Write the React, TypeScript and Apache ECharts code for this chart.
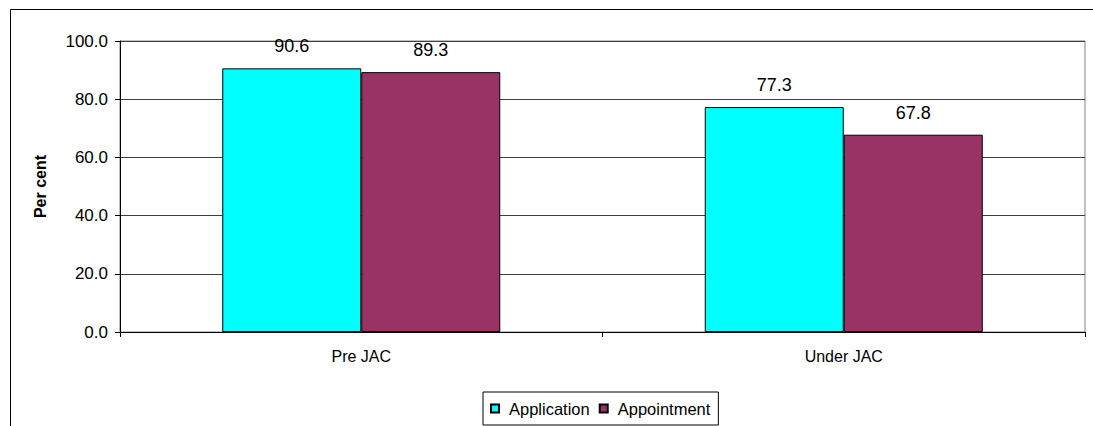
import React, { useEffect, useRef } from "react";
import * as echarts from "echarts";

const categories = ["Pre JAC", "Under JAC"];
const applicationValues = [90.6, 77.3];
const appointmentValues = [89.3, 67.8];
const seriesNames = ["Application", "Appointment"];
const yTicks = { min: 0, max: 100, interval: 20 };

const FONT = "'Liberation Sans', Arial, sans-serif";

export default function App() {
  const ref = useRef<HTMLDivElement>(null);
  useEffect(() => {
    if (!ref.current) return;
    const chart = echarts.init(ref.current, null, { renderer: "svg" });
    const label = {
      show: true,
      position: "top" as const,
      distance: 13,
      fontSize: 18,
      fontFamily: FONT,
      color: "#000",
      formatter: (p: any) => Number(p.value).toFixed(1),
    };
    chart.setOption({
      animation: false,
      backgroundColor: "#fff",
      textStyle: { fontFamily: FONT },
      grid: {
        left: 120,
        right: 8,
        top: 41,
        bottom: 94,
        show: true,
        borderColor: "#808080",
        borderWidth: 1,
        backgroundColor: "transparent",
      },
      graphic: [
        {
          type: "rect",
          shape: { x: 10.5, y: 9.5, width: 1200, height: 600 },
          style: { fill: "none", stroke: "#000", lineWidth: 1 },
          silent: true,
          z: -1,
        },
      ],
      legend: {
        data: seriesNames,
        left: 483,
        top: 392,
        padding: [8, 8, 8, 7],
        itemGap: 9,
        itemWidth: 8,
        itemHeight: 8,
        icon: "rect",
        borderColor: "#000",
        borderWidth: 1,
        textStyle: { fontSize: 16.5, fontFamily: FONT, color: "#000", padding: [0, 0, 0, 5] },
      },
      xAxis: {
        type: "category",
        data: categories,
        axisLine: { lineStyle: { color: "#000", width: 1 } },
        axisTick: { show: true, length: 5, lineStyle: { color: "#000" } },
        axisLabel: { fontSize: 16, fontFamily: FONT, color: "#000", margin: 16 },
      },
      yAxis: {
        type: "value",
        min: yTicks.min,
        max: yTicks.max,
        interval: yTicks.interval,
        name: "Per cent",
        nameLocation: "middle",
        nameRotate: 90,
        nameGap: 72,
        nameTextStyle: { fontSize: 16, fontWeight: "bold", fontFamily: FONT, color: "#000" },
        axisLine: { show: true, lineStyle: { color: "#000", width: 1 } },
        axisTick: { show: true, length: 5, lineStyle: { color: "#000" } },
        axisLabel: {
          fontSize: 17,
          fontFamily: FONT,
          color: "#000",
          margin: 12,
          formatter: (v: number) => v.toFixed(1),
        },
        splitLine: { show: true, lineStyle: { color: "#404040", width: 1 } },
      },
      series: [
        {
          name: seriesNames[0],
          type: "bar",
          data: applicationValues,
          barWidth: 139,
          barGap: "0%",
          itemStyle: { color: "#00FFFF", borderColor: "#000", borderWidth: 1 },
          label,
        },
        {
          name: seriesNames[1],
          type: "bar",
          data: appointmentValues,
          barWidth: 139,
          barGap: "0%",
          itemStyle: { color: "#993366", borderColor: "#000", borderWidth: 1 },
          label,
        },
      ],
    });
    return () => chart.dispose();
  }, []);
  return (
    <div
      ref={ref}
      style={{ position: "absolute", left: 0, top: 0, width: 1093, height: 426 }}
    />
  );
}
